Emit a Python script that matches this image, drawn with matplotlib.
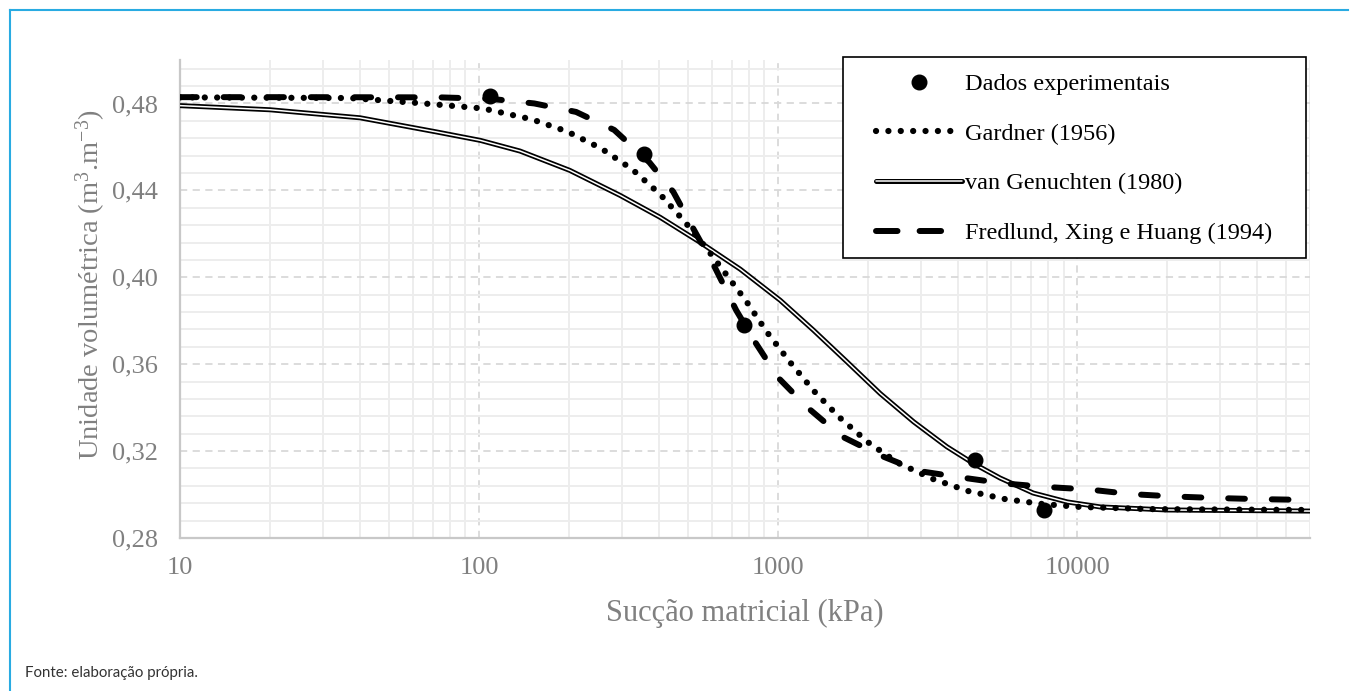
import matplotlib
matplotlib.use("Agg")
import matplotlib.pyplot as plt
from matplotlib.lines import Line2D
from matplotlib.patches import Rectangle
from matplotlib.ticker import FixedLocator, NullFormatter

plt.rcParams["mathtext.fontset"] = "custom"
plt.rcParams["mathtext.rm"] = "Liberation Serif"
plt.rcParams["mathtext.it"] = "Liberation Serif:italic"
plt.rcParams["mathtext.bf"] = "Liberation Serif:bold"

# ---------------- data ----------------
exp_suction = [109, 357, 771, 4560, 7760]
exp_theta = [0.4833, 0.4566, 0.3780, 0.3159, 0.2929]

gardner_suction = [10, 37, 64, 103, 150, 197, 256, 325, 403, 489, 583, 697, 782,
                   918, 1096, 1318, 1600, 2000, 2520, 3300, 4320, 5740, 7690,
                   10230, 17500, 60000]
gardner_theta = [0.4828, 0.4825, 0.4801, 0.4777, 0.4727, 0.4671, 0.4593, 0.4497,
                 0.4382, 0.4253, 0.4124, 0.3982, 0.3890, 0.3747, 0.3609, 0.3476,
                 0.3356, 0.3240, 0.3145, 0.3071, 0.3016, 0.2979, 0.2956, 0.2943,
                 0.2933, 0.2929]

vg_suction = [10, 20, 40, 72, 101, 137, 201, 296, 403, 548, 747, 1016, 1313, 1698,
              2193, 2836, 3665, 4497, 5520, 7125, 9260, 11940, 20000, 60000]
vg_theta = [0.4790, 0.4771, 0.4734, 0.4669, 0.4630, 0.4581, 0.4492, 0.4377, 0.4276,
            0.4161, 0.4037, 0.3894, 0.3756, 0.3611, 0.3465, 0.3335, 0.3220, 0.3143,
            0.3076, 0.3007, 0.2966, 0.2943, 0.2929, 0.2924]

fx_suction = [10, 25, 74, 110, 153, 211, 283, 371, 446, 524, 615, 724, 838, 1000,
              1250, 1624, 2178, 2962, 4124, 5701, 7870, 10960, 15170, 21100, 29160,
              40300, 60000]
fx_theta = [0.4829, 0.4829, 0.4828, 0.4821, 0.4800, 0.4761, 0.4678, 0.4529, 0.4393,
            0.4216, 0.4044, 0.3848, 0.3701, 0.3538, 0.3402, 0.3269, 0.3182, 0.3108,
            0.3078, 0.3051, 0.3035, 0.3023, 0.3002, 0.2991, 0.2984, 0.2979, 0.2975]

x_ticks = [10, 100, 1000, 10000]
x_ticklabels = ["10", "100", "1000", "10000"]
y_ticks = [0.28, 0.32, 0.36, 0.40, 0.44, 0.48]
y_ticklabels = ["0,28", "0,32", "0,36", "0,40", "0,44", "0,48"]

labels = ["Dados experimentais", "Gardner (1956)", "van Genuchten (1980)",
          "Fredlund, Xing e Huang (1994)"]

# ---------------- figure ----------------
W, H = 1358, 691
fig = plt.figure(figsize=(W / 100, H / 100), dpi=100)
serif = ["Liberation Serif", "DejaVu Serif"]
gray = "#808080"

ax = fig.add_axes([180 / W, 1 - 538 / H, 1130 / W, (538 - 60) / H])
ax.set_xscale("log")
ax.set_xlim(10, 60000)
ax.set_ylim(0.28, 0.50)

# grid
minor_x = [m * d for d in (10, 100, 1000, 10000) for m in range(2, 10) if m * d <= 60000]
ax.xaxis.set_minor_locator(FixedLocator(minor_x))
ax.xaxis.set_minor_formatter(NullFormatter())
ax.set_xticks(x_ticks)
ax.set_xticklabels(x_ticklabels)
ax.set_yticks(y_ticks)
ax.set_yticklabels(y_ticklabels)
minor_y = [0.28 + 0.008 * i for i in range(1, 28) if i % 5 != 0]
ax.yaxis.set_minor_locator(FixedLocator(minor_y))
ax.grid(True, which="major", color="#d9d9d9", linestyle=(0, (4, 3)), linewidth=1.3)
ax.grid(True, which="minor", color="#ededed", linestyle="-", linewidth=1.4)
ax.set_axisbelow(True)

ax.tick_params(which="both", length=0)
ax.tick_params(axis="x", pad=14, labelsize=19, labelcolor=gray)
ax.tick_params(axis="y", pad=16, labelsize=19, labelcolor=gray)
for lab in ax.get_xticklabels() + ax.get_yticklabels():
    lab.set_fontfamily(serif)

for side in ("top", "right"):
    ax.spines[side].set_visible(False)
for side in ("left", "bottom"):
    ax.spines[side].set_color("#c8c8c8")
    ax.spines[side].set_linewidth(1.6)

ax.set_xlabel("Sucção matricial (kPa)", fontsize=22, color=gray, family=serif, labelpad=14)
ax.set_ylabel("Unidade volumétrica (m$^{3}$.m$^{-3}$)", fontsize=20.5, color=gray,
              family=serif)
ax.yaxis.set_label_coords(-0.064, 0.53)

# curves
ax.plot(vg_suction, vg_theta, color="black", lw=3.6, solid_capstyle="butt",
        solid_joinstyle="round", zorder=3)
ax.plot(vg_suction, vg_theta, color="white", lw=1.1, solid_capstyle="butt",
        solid_joinstyle="round", zorder=3.1)
ax.plot(gardner_suction, gardner_theta, color="black", lw=4.5,
        linestyle=(0, (0.01, 1.97)), dash_capstyle="round", zorder=4)
ax.plot(fx_suction, fx_theta, color="black", lw=4.3,
        linestyle=(0, (2.8, 4.5)), dash_capstyle="round", zorder=5)
ax.plot(exp_suction, exp_theta, linestyle="none", marker="o", markersize=10.5,
        color="black", zorder=6)

# legend
leg_pts = Line2D([], [], linestyle="none", marker="o", markersize=10.5, color="black")
leg_gd = Line2D([], [], color="black", lw=4.5, linestyle=(0, (0.01, 1.97)), dash_capstyle="round")
leg_vo = Line2D([], [], color="black", lw=3.6, solid_capstyle="round")
leg_vi = Line2D([], [], color="white", lw=1.1, solid_capstyle="round")
leg_fx = Line2D([], [], color="black", lw=4.3, linestyle=(0, (3.6, 3.7)), dash_capstyle="round")

fig.patches.append(Rectangle((843 / W, 1 - 258 / H), 463 / W, 201 / H,
                             transform=fig.transFigure, facecolor="white",
                             edgecolor="black", linewidth=1.2, zorder=10))
leg = fig.legend([leg_pts, leg_gd, (leg_vo, leg_vi), leg_fx], labels,
                 loc="upper left", bbox_to_anchor=(876 / W, 1 - 73 / H),
                 frameon=False, borderpad=0, borderaxespad=0, handlelength=3.54,
                 handletextpad=0.12, labelspacing=1.14,
                 prop={"family": serif, "size": 17.5})
leg.set_zorder(11)

# outer frame lines and source note
fig.add_artist(Line2D([10 / W, 10 / W], [0, 1 - 10 / H], transform=fig.transFigure,
                      color="#29abe2", lw=1.5))
fig.add_artist(Line2D([10 / W, 1348 / W], [1 - 10 / H, 1 - 10 / H], transform=fig.transFigure,
                      color="#29abe2", lw=1.5))
fig.text(25 / W, 1 - 673 / H, "Fonte: elaboração própria.", fontsize=10.8,
         family=["Lato", "DejaVu Sans"], color="#333333",
         va="center", ha="left")

fig.savefig("out.png", dpi=100, facecolor="white")
